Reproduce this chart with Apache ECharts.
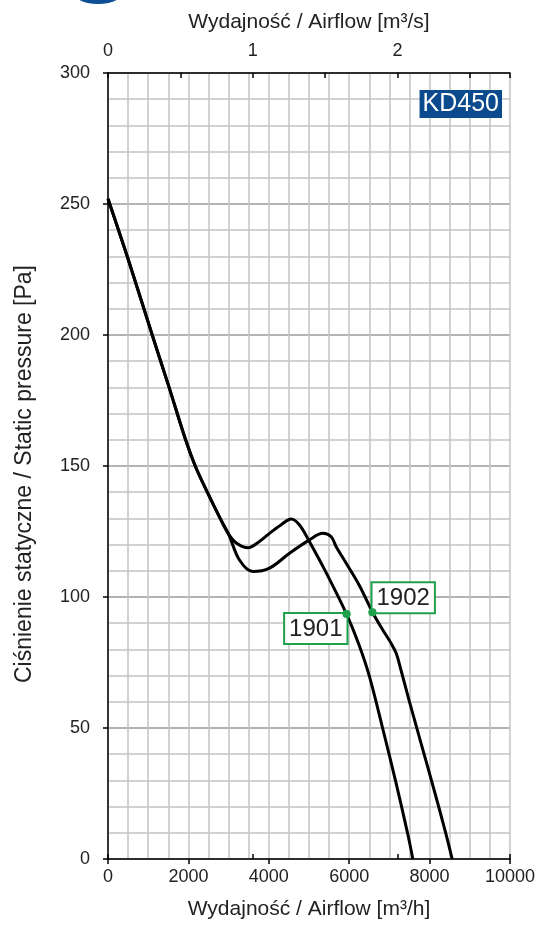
<!DOCTYPE html>
<html>
<head>
<meta charset="utf-8">
<script src="https://cdn.jsdelivr.net/npm/echarts@6/dist/echarts.min.js"></script>
<style>
  html, body { margin: 0; padding: 0; background: #fff; }
  #chart { width: 539px; height: 926px; }
</style>
</head>
<body>
<div id="chart"></div>
<script>
// Fan curves: [airflow m3/h, static pressure Pa]
const curve1901 = [
  [0, 252], [500, 229], [1100, 200], [1520, 180], [1930, 160], [2170, 150],
  [2470, 140], [2790, 130], [3000, 124], [3200, 120.5], [3480, 118.8],
  [3750, 121], [4017, 124.3], [4300, 127.5], [4557, 129.8], [4764, 127.5],
  [5012, 121.1], [5420, 109.5], [5933, 93.5], [6250, 81.5], [6505, 69.6],
  [6830, 50], [7150, 30], [7450, 10], [7583, 0]
];
const curve1902 = [
  [0, 252], [500, 229], [1100, 200], [1520, 180], [1930, 160], [2170, 150],
  [2470, 140], [2790, 130], [3000, 124], [3271, 114.1], [3602, 109.7],
  [4017, 111], [4515, 116.7], [5012, 121.8], [5343, 124.3], [5552, 123],
  [5676, 119.2], [5925, 112.9], [6250, 104.5], [6587, 94], [6836, 87.4],
  [7044, 82.3], [7169, 78.5], [7290, 72], [7500, 60], [7800, 43.5],
  [8100, 27], [8400, 10], [8561, 0]
];
// Rated operating points
const point1901 = [5933, 93.5];
const point1902 = [6580, 94.2];
const pointNames = ['1901', '1902'];
const modelName = 'KD450';

const flowMax = 10000;          // m3/h
const flowStep = 2000;
const pressureMax = 300;        // Pa
const pressureStep = 50;
const flowMaxM3s = flowMax / 3600;

const FONT = '"Liberation Sans", Arial, Helvetica, sans-serif';
const TXT = '#222';
const GREEN = '#1fa04c';
const GRID_LIGHT = '#c4c4c4';
const GRID_DARK = '#9a9a9a';

const chart = echarts.init(document.getElementById('chart'), null, { renderer: 'canvas' });

const labelBox = {
  show: true,
  formatter: '{b}',
  color: TXT,
  fontFamily: FONT,
  fontSize: 24,
  lineHeight: 26,
  backgroundColor: '#fff',
  borderColor: GREEN,
  borderWidth: 2,
  padding: [2, 4, 1, 4]
};

chart.setOption({
  animation: false,
  backgroundColor: '#fff',
  grid: { left: 108, top: 73, right: 29, bottom: 67, containLabel: false },
  xAxis: [
    {
      type: 'value', position: 'bottom', min: 0, max: flowMax, interval: flowStep,
      name: 'Wydajność / Airflow [m³/h]', nameLocation: 'middle', nameGap: 40,
      nameTextStyle: { color: TXT, fontFamily: FONT, fontSize: 21 },
      axisLine: { show: true, onZero: false, lineStyle: { color: '#000', width: 1.5 } },
      axisTick: { show: true, inside: false, length: 5, lineStyle: { color: '#000', width: 1.5 } },
      axisLabel: { color: TXT, fontFamily: FONT, fontSize: 18, margin: 9, formatter: v => String(v) },
      splitLine: { show: true, lineStyle: { color: GRID_LIGHT, width: 1.5 } },
      minorTick: { show: false, splitNumber: 4 },
      minorSplitLine: { show: true, lineStyle: { color: GRID_LIGHT, width: 1.5 } }
    },
    {
      type: 'value', position: 'top', min: 0, max: flowMaxM3s, interval: 0.5,
      name: 'Wydajność / Airflow [m³/s]', nameLocation: 'middle', nameGap: 40,
      nameTextStyle: { color: TXT, fontFamily: FONT, fontSize: 21 },
      axisLine: { show: true, onZero: false, lineStyle: { color: '#000', width: 1.5 } },
      axisTick: { show: true, inside: true, length: 5, lineStyle: { color: '#000', width: 1.5 } },
      axisLabel: {
        color: TXT, fontFamily: FONT, fontSize: 18, margin: 13,
        formatter: v => (Math.abs(v - Math.round(v)) < 1e-6 ? String(Math.round(v)) : '')
      },
      splitLine: { show: false }
    },
    {
      type: 'value', position: 'top', min: 0, max: flowMaxM3s, interval: 1,
      axisLine: { show: false },
      axisTick: { show: true, inside: false, length: 5, lineStyle: { color: '#000', width: 1.5 } },
      axisLabel: { show: false },
      splitLine: { show: false }
    }
  ],
  yAxis: {
    type: 'value', min: 0, max: pressureMax, interval: pressureStep,
    name: 'Ciśnienie statyczne / Static pressure [Pa]', nameLocation: 'middle', nameGap: 72,
    nameRotate: 90,
    nameTextStyle: { color: TXT, fontFamily: FONT, fontSize: 23, padding: [0, 16, 0, 0] },
    axisLine: { show: true, onZero: false, lineStyle: { color: '#000', width: 1.5 } },
    axisTick: { show: true, inside: false, length: 5, lineStyle: { color: '#000', width: 1.5 } },
    axisLabel: { color: TXT, fontFamily: FONT, fontSize: 18, margin: 18 },
    splitLine: { show: true, lineStyle: { color: GRID_DARK, width: 1.5 } },
    minorTick: { show: false, splitNumber: 5 },
    minorSplitLine: { show: true, lineStyle: { color: GRID_LIGHT, width: 1.5 } }
  },
  series: [
    {
      name: '1901', type: 'line', data: curve1901, smooth: 0.35, showSymbol: false,
      lineStyle: { color: '#000', width: 3 }, z: 3
    },
    {
      name: '1902', type: 'line', data: curve1902, smooth: 0.35, showSymbol: false,
      lineStyle: { color: '#000', width: 3 }, z: 3
    },
    // model name boxes anchored at the rated points
    {
      type: 'scatter', symbol: 'circle', symbolSize: 8, z: 5,
      itemStyle: { color: GREEN, opacity: 1 },
      data: [
        {
          name: pointNames[0], value: point1901,
          label: Object.assign({}, labelBox, { position: [4, 4], align: 'right', verticalAlign: 'top' })
        },
        {
          name: pointNames[1], value: point1902,
          label: Object.assign({}, labelBox, { position: [4, 4], align: 'left', verticalAlign: 'bottom' })
        }
      ]
    },
    // rated point markers drawn above the boxes
    {
      type: 'scatter', symbol: 'circle', symbolSize: 8, z: 7,
      itemStyle: { color: GREEN, opacity: 1 },
      data: [
        { name: pointNames[0], value: point1901 },
        { name: pointNames[1], value: point1902 }
      ]
    }
  ],
  graphic: [
    {
      type: 'ellipse', shape: { cx: 98, cy: -8, rx: 25, ry: 12 },
      style: { fill: '#0d4f94' }, silent: true
    },
    {
      type: 'text', right: 37, top: 90, z: 10,
      style: {
        text: modelName, fill: '#fff', fontFamily: FONT, fontSize: 25,
        backgroundColor: '#0b4a8c', padding: [2, 3, 1, 3]
      }
    }
  ]
});
</script>
</body>
</html>
